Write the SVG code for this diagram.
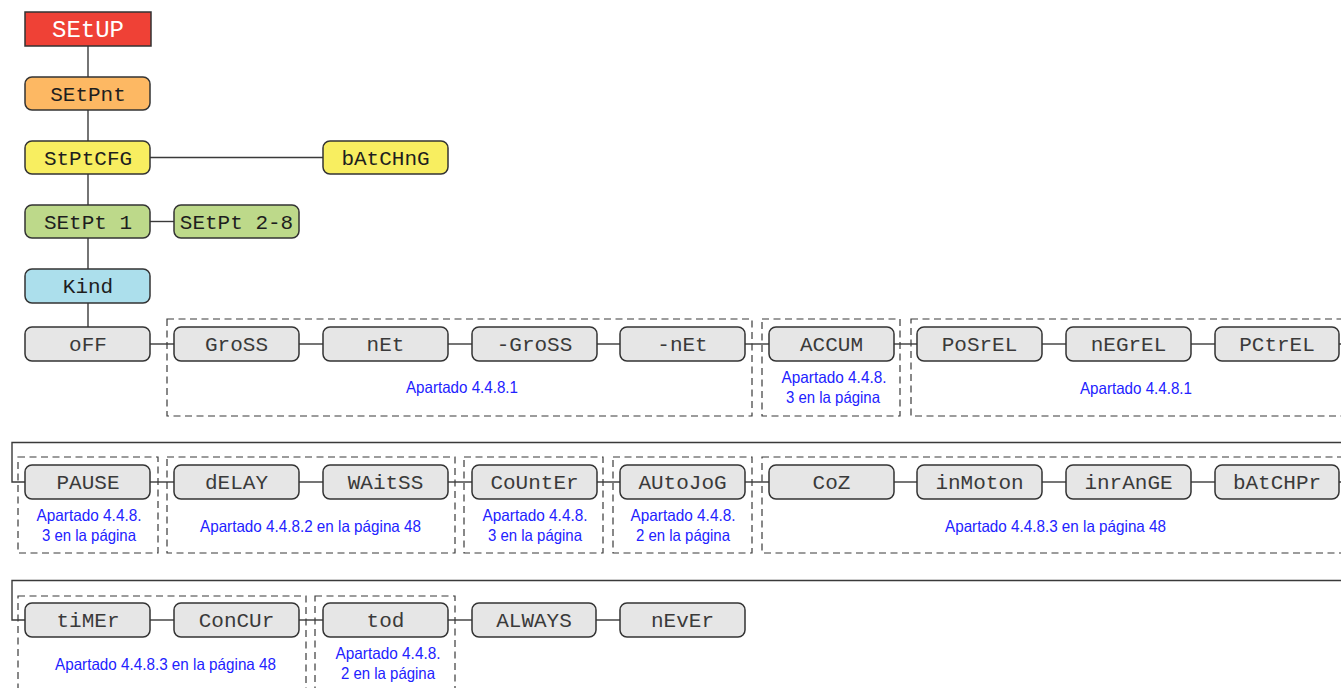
<svg xmlns="http://www.w3.org/2000/svg" width="1341" height="688" viewBox="0 0 1341 688">
<style>
.bg{fill:#ffffff}
.box{stroke:#333333;stroke-width:1.5}
.opt{fill:#e6e6e6}
.lcd{font-family:"Liberation Mono","DejaVu Sans Mono",monospace;font-size:21px;text-anchor:middle;fill:#1e1e1e}
.lcdl{fill:#3a3a3a}
.ln{stroke:#3a3a3a;stroke-width:1.4;fill:none}
.dash{stroke:#3a3a3a;stroke-width:1.2;fill:none;stroke-dasharray:7 4.5}
.note{font-family:"Liberation Sans",Arial,sans-serif;font-size:16.5px;fill:#2222ff;text-anchor:middle}
</style>
<rect class="bg" x="0" y="0" width="1341" height="688"/>

<g id="connectors">
  <line class="ln" x1="88" y1="46" x2="88" y2="77"/>
  <line class="ln" x1="88" y1="110" x2="88" y2="141"/>
  <line class="ln" x1="88" y1="174" x2="88" y2="205"/>
  <line class="ln" x1="88" y1="238" x2="88" y2="269"/>
  <line class="ln" x1="88" y1="303" x2="88" y2="327"/>
  <line class="ln" x1="150" y1="157.5" x2="323" y2="157.5"/>
  <line class="ln" x1="150" y1="221.5" x2="174" y2="221.5"/>
  <line class="ln" x1="150" y1="344" x2="174" y2="344"/>
  <line class="ln" x1="299" y1="344" x2="323" y2="344"/>
  <line class="ln" x1="448" y1="344" x2="472" y2="344"/>
  <line class="ln" x1="597" y1="344" x2="620" y2="344"/>
  <line class="ln" x1="745" y1="344" x2="769" y2="344"/>
  <line class="ln" x1="894" y1="344" x2="917" y2="344"/>
  <line class="ln" x1="1042" y1="344" x2="1066" y2="344"/>
  <line class="ln" x1="1191" y1="344" x2="1215" y2="344"/>
  <line class="ln" x1="1339" y1="344" x2="1341" y2="344"/>
  <polyline class="ln" points="1341,442.5 12,442.5 12,482 25,482"/>
  <line class="ln" x1="150" y1="482" x2="174" y2="482"/>
  <line class="ln" x1="299" y1="482" x2="323" y2="482"/>
  <line class="ln" x1="448" y1="482" x2="472" y2="482"/>
  <line class="ln" x1="597" y1="482" x2="620" y2="482"/>
  <line class="ln" x1="745" y1="482" x2="769" y2="482"/>
  <line class="ln" x1="894" y1="482" x2="917" y2="482"/>
  <line class="ln" x1="1042" y1="482" x2="1066" y2="482"/>
  <line class="ln" x1="1191" y1="482" x2="1215" y2="482"/>
  <line class="ln" x1="1339" y1="482" x2="1341" y2="482"/>
  <polyline class="ln" points="1341,580.5 12,580.5 12,620 25,620"/>
  <line class="ln" x1="150" y1="620" x2="174" y2="620"/>
  <line class="ln" x1="299" y1="620" x2="323" y2="620"/>
  <line class="ln" x1="448" y1="620" x2="472" y2="620"/>
  <line class="ln" x1="596" y1="620" x2="620" y2="620"/>
</g>

<g id="groups">
  <rect class="dash" x="167" y="319" width="585" height="97"/>
  <rect class="dash" x="762" y="319" width="138" height="97"/>
  <rect class="dash" x="911" y="319" width="440" height="97"/>
  <rect class="dash" x="18" y="457" width="140" height="96"/>
  <rect class="dash" x="167" y="457" width="288" height="96"/>
  <rect class="dash" x="464" y="457" width="139" height="96"/>
  <rect class="dash" x="613" y="457" width="139" height="96"/>
  <rect class="dash" x="762" y="457" width="589" height="96"/>
  <rect class="dash" x="18" y="596" width="288" height="110"/>
  <rect class="dash" x="315" y="596" width="140" height="110"/>
  <text class="note" x="462" y="393" textLength="112" lengthAdjust="spacingAndGlyphs">Apartado 4.4.8.1</text>
  <text class="note" x="834" y="383" textLength="105" lengthAdjust="spacingAndGlyphs">Apartado 4.4.8.</text>
  <text class="note" x="833" y="403" textLength="94" lengthAdjust="spacingAndGlyphs">3 en la página</text>
  <text class="note" x="1136" y="394" textLength="112" lengthAdjust="spacingAndGlyphs">Apartado 4.4.8.1</text>
  <text class="note" x="89" y="521" textLength="105" lengthAdjust="spacingAndGlyphs">Apartado 4.4.8.</text>
  <text class="note" x="89" y="541" textLength="94" lengthAdjust="spacingAndGlyphs">3 en la página</text>
  <text class="note" x="310.5" y="532" textLength="221" lengthAdjust="spacingAndGlyphs">Apartado 4.4.8.2 en la página 48</text>
  <text class="note" x="535" y="521" textLength="105" lengthAdjust="spacingAndGlyphs">Apartado 4.4.8.</text>
  <text class="note" x="535" y="541" textLength="94" lengthAdjust="spacingAndGlyphs">3 en la página</text>
  <text class="note" x="683" y="521" textLength="105" lengthAdjust="spacingAndGlyphs">Apartado 4.4.8.</text>
  <text class="note" x="683" y="541" textLength="94" lengthAdjust="spacingAndGlyphs">2 en la página</text>
  <text class="note" x="1055.5" y="532" textLength="221" lengthAdjust="spacingAndGlyphs">Apartado 4.4.8.3 en la página 48</text>
  <text class="note" x="165.5" y="670" textLength="221" lengthAdjust="spacingAndGlyphs">Apartado 4.4.8.3 en la página 48</text>
  <text class="note" x="388" y="659" textLength="105" lengthAdjust="spacingAndGlyphs">Apartado 4.4.8.</text>
  <text class="note" x="388" y="679" textLength="94" lengthAdjust="spacingAndGlyphs">2 en la página</text>
</g>

<g id="n-setup"><rect class="box" x="25" y="12" width="126" height="34" fill="#ef4136" stroke-width="2"/><text class="lcd" x="88" y="37" style="fill:#ffffff;font-size:24px">SEtUP</text></g>
<g id="n-setpnt"><rect class="box" x="25" y="77" width="125" height="33" rx="7" fill="#fdb863"/><text class="lcd" x="88" y="101">SEtPnt</text></g>
<g id="n-stptcfg"><rect class="box" x="25" y="141" width="125" height="33" rx="7" fill="#f8ee60"/><text class="lcd" x="88" y="165">StPtCFG</text></g>
<g id="n-batchng"><rect class="box" x="323" y="141" width="125" height="33" rx="7" fill="#f8ee60"/><text class="lcd" x="385.5" y="165">bAtCHnG</text></g>
<g id="n-setpt1"><rect class="box" x="25" y="205" width="125" height="33" rx="7" fill="#bdd98a"/><text class="lcd" x="88" y="229">SEtPt  1</text></g>
<g id="n-setpt28"><rect class="box" x="174" y="205" width="125" height="33" rx="7" fill="#bdd98a"/><text class="lcd" x="236.5" y="229">SEtPt 2-8</text></g>
<g id="n-kind"><rect class="box" x="25" y="269" width="125" height="34" rx="7" fill="#acdfec"/><text class="lcd" x="88" y="293">Kind</text></g>

<g id="n-off"><rect class="box opt" x="25" y="327" width="125" height="34" rx="7"/><text class="lcd lcdl" x="88" y="351">oFF</text></g>
<g id="n-gross"><rect class="box opt" x="174" y="327" width="125" height="34" rx="7"/><text class="lcd lcdl" x="236.5" y="351">GroSS</text></g>
<g id="n-net"><rect class="box opt" x="323" y="327" width="125" height="34" rx="7"/><text class="lcd lcdl" x="385.5" y="351">nEt</text></g>
<g id="n-mgross"><rect class="box opt" x="472" y="327" width="125" height="34" rx="7"/><text class="lcd lcdl" x="534.5" y="351">-GroSS</text></g>
<g id="n-mnet"><rect class="box opt" x="620" y="327" width="125" height="34" rx="7"/><text class="lcd lcdl" x="682.5" y="351">-nEt</text></g>
<g id="n-accum"><rect class="box opt" x="769" y="327" width="125" height="34" rx="7"/><text class="lcd lcdl" x="831.5" y="351">ACCUM</text></g>
<g id="n-posrel"><rect class="box opt" x="917" y="327" width="125" height="34" rx="7"/><text class="lcd lcdl" x="979.5" y="351">PoSrEL</text></g>
<g id="n-negrel"><rect class="box opt" x="1066" y="327" width="125" height="34" rx="7"/><text class="lcd lcdl" x="1128.5" y="351">nEGrEL</text></g>
<g id="n-pctrel"><rect class="box opt" x="1215" y="327" width="124" height="34" rx="7"/><text class="lcd lcdl" x="1277" y="351">PCtrEL</text></g>

<g id="n-pause"><rect class="box opt" x="25" y="465" width="125" height="34" rx="7"/><text class="lcd lcdl" x="88" y="489">PAUSE</text></g>
<g id="n-delay"><rect class="box opt" x="174" y="465" width="125" height="34" rx="7"/><text class="lcd lcdl" x="236.5" y="489">dELAY</text></g>
<g id="n-waitss"><rect class="box opt" x="323" y="465" width="125" height="34" rx="7"/><text class="lcd lcdl" x="385.5" y="489">WAitSS</text></g>
<g id="n-counter"><rect class="box opt" x="472" y="465" width="125" height="34" rx="7"/><text class="lcd lcdl" x="534.5" y="489">CoUntEr</text></g>
<g id="n-autojog"><rect class="box opt" x="620" y="465" width="125" height="34" rx="7"/><text class="lcd lcdl" x="682.5" y="489">AUtoJoG</text></g>
<g id="n-coz"><rect class="box opt" x="769" y="465" width="125" height="34" rx="7"/><text class="lcd lcdl" x="831.5" y="489">CoZ</text></g>
<g id="n-inmoton"><rect class="box opt" x="917" y="465" width="125" height="34" rx="7"/><text class="lcd lcdl" x="979.5" y="489">inMoton</text></g>
<g id="n-inrange"><rect class="box opt" x="1066" y="465" width="125" height="34" rx="7"/><text class="lcd lcdl" x="1128.5" y="489">inrAnGE</text></g>
<g id="n-batchpr"><rect class="box opt" x="1215" y="465" width="124" height="34" rx="7"/><text class="lcd lcdl" x="1277" y="489">bAtCHPr</text></g>

<g id="n-timer"><rect class="box opt" x="25" y="603" width="125" height="34" rx="7"/><text class="lcd lcdl" x="88" y="627">tiMEr</text></g>
<g id="n-concur"><rect class="box opt" x="174" y="603" width="125" height="34" rx="7"/><text class="lcd lcdl" x="236.5" y="627">ConCUr</text></g>
<g id="n-tod"><rect class="box opt" x="323" y="603" width="125" height="34" rx="7"/><text class="lcd lcdl" x="385.5" y="627">tod</text></g>
<g id="n-always"><rect class="box opt" x="472" y="603" width="124" height="34" rx="7"/><text class="lcd lcdl" x="534" y="627">ALWAYS</text></g>
<g id="n-never"><rect class="box opt" x="620" y="603" width="125" height="34" rx="7"/><text class="lcd lcdl" x="682.5" y="627">nEvEr</text></g>
</svg>
